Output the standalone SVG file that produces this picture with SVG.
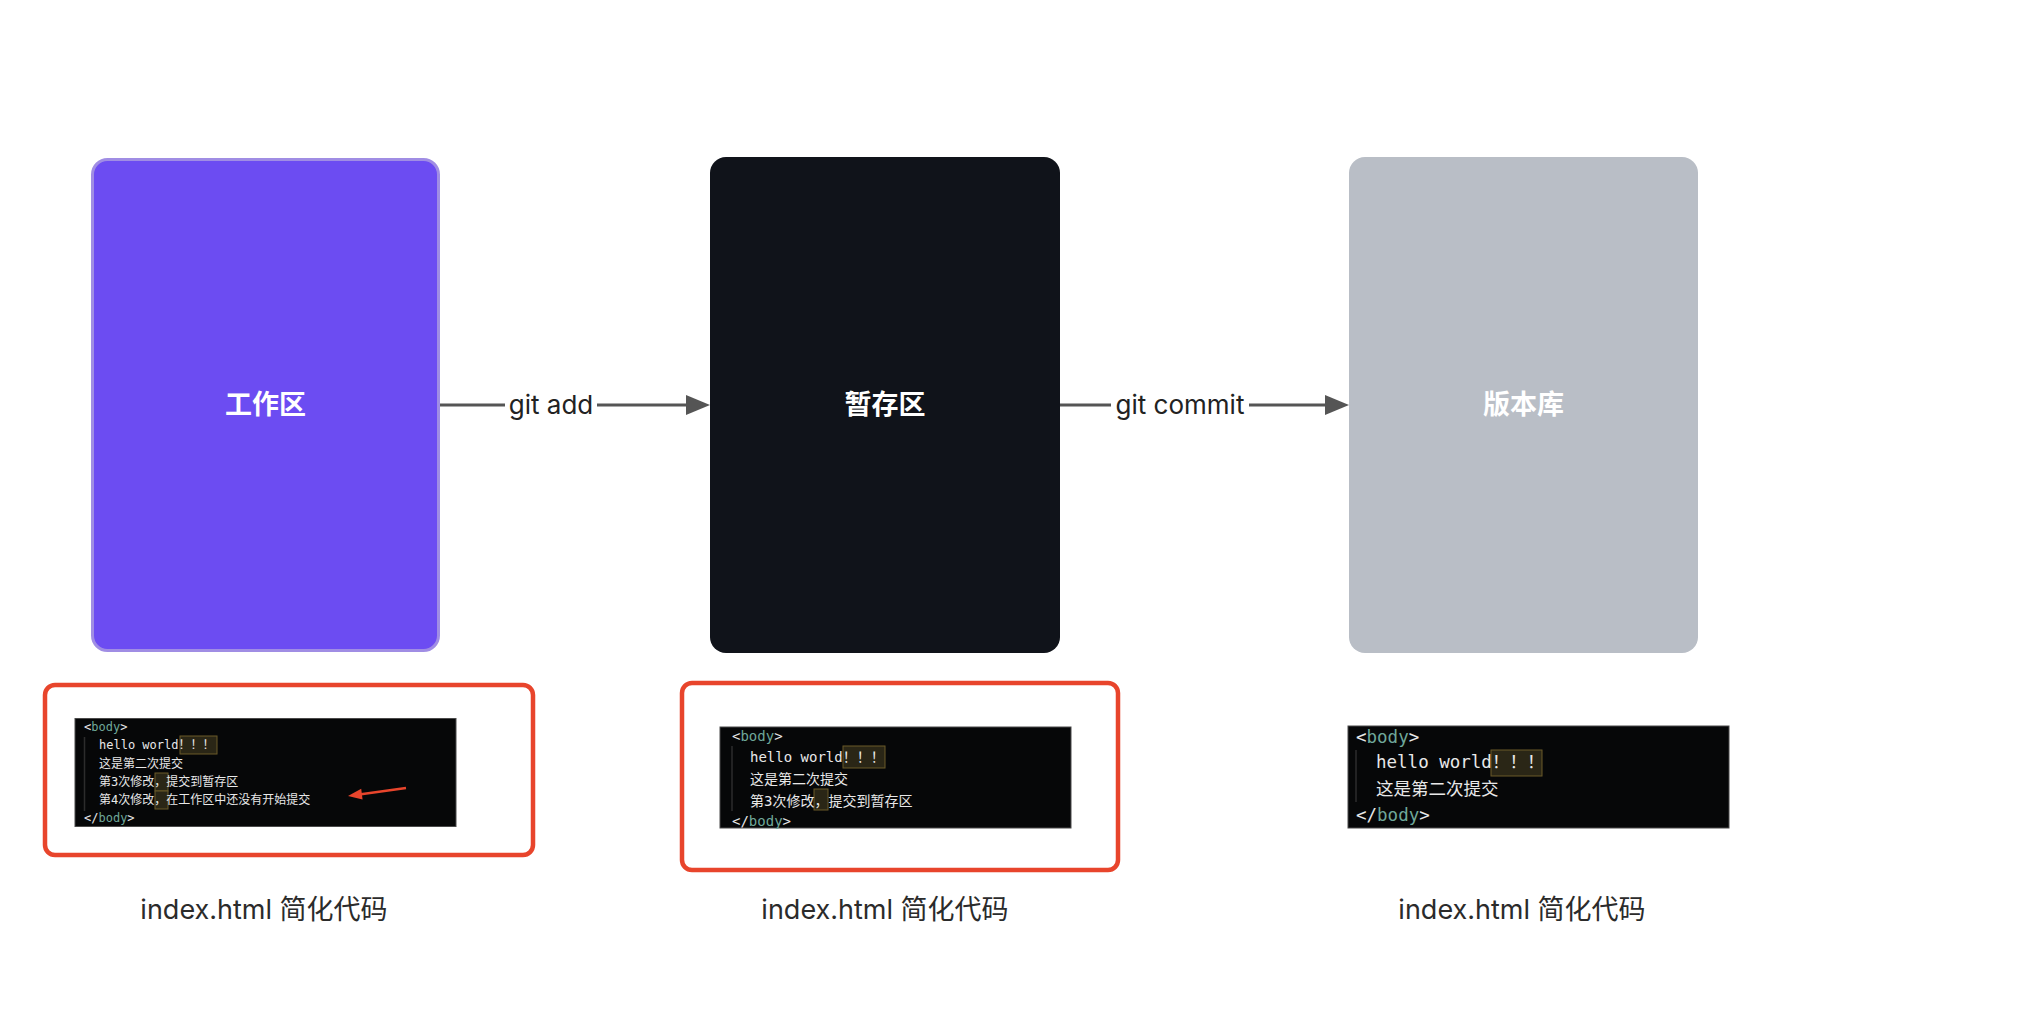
<svg xmlns="http://www.w3.org/2000/svg" width="2040" height="1032" viewBox="0 0 2040 1032">
<defs>
<style>
.lbl{font-family:"Noto Sans CJK SC",sans-serif;font-size:27px;font-weight:700;fill:#ffffff;text-anchor:middle}
.edge{font-family:Inter,"Liberation Sans",sans-serif;font-size:26px;fill:#222222;text-anchor:middle}
.cap{font-family:Inter,"Noto Sans CJK SC",sans-serif;font-size:27px;fill:#2b2b2b;text-anchor:middle}
.code{font-family:"DejaVu Sans Mono","Noto Sans CJK SC",monospace;fill:#e8e8e8}
.tag{fill:#6fa89a}
.hl{fill:#2a2616;stroke:#6a5a28;stroke-width:1}
.blk{fill:#060708;stroke:#4a4a4a;stroke-width:1}
.guide{stroke:#2c2c2c;stroke-width:1.5}
.red{fill:none;stroke:#e8452c;stroke-width:4.5}
.conn{stroke:#555555;stroke-width:3;fill:none}
</style>
</defs>
<rect width="2040" height="1032" fill="#ffffff"/>

<g id="connectors">
<line class="conn" x1="440" y1="405" x2="688" y2="405"/>
<polygon points="710,405 686,395 686,415" fill="#555555"/>
<rect x="505" y="388" width="92" height="34" fill="#ffffff"/>
<text class="edge" x="551" y="414">git add</text>
<line class="conn" x1="1060" y1="405" x2="1327" y2="405"/>
<polygon points="1349,405 1325,395 1325,415" fill="#555555"/>
<rect x="1111" y="388" width="138" height="34" fill="#ffffff"/>
<text class="edge" x="1180" y="414">git commit</text>
</g>

<g id="node-workspace">
<rect x="92.5" y="159.5" width="346" height="491" rx="15" fill="#6c4cf2" stroke="#a08de4" stroke-width="3"/>
<text class="lbl" x="265.5" y="414">工作区</text>
</g>

<g id="node-staging">
<rect x="710" y="157" width="350" height="496" rx="16" fill="#10131a"/>
<text class="lbl" x="885" y="414">暂存区</text>
</g>

<g id="node-repo">
<rect x="1349" y="157" width="349" height="496" rx="16" fill="#b9bec6"/>
<text class="lbl" x="1523.5" y="414">版本库</text>
</g>

<g id="code-workspace">
<rect class="red" x="45" y="685" width="488" height="170" rx="10"/>
<rect class="blk" x="75" y="718.5" width="381" height="108"/>
<line class="guide" x1="84.5" y1="737" x2="84.5" y2="811"/>
<rect class="hl" x="180" y="736" width="37" height="18"/>
<rect class="hl" x="155" y="773" width="13" height="18"/>
<rect class="hl" x="155" y="791" width="13" height="18"/>
<g class="code" font-size="12">
<text x="84" y="731">&lt;<tspan class="tag">body</tspan>&gt;</text>
<text x="99" y="749">hello world！！！</text>
<text x="99" y="767.5">这是第二次提交</text>
<text x="99" y="786">第3次修改，提交到暂存区</text>
<text x="99" y="804">第4次修改，在工作区中还没有开始提交</text>
<text x="84" y="822">&lt;/<tspan class="tag">body</tspan>&gt;</text>
</g>
<line x1="406" y1="788" x2="361" y2="794.2" stroke="#e8452c" stroke-width="2.5"/>
<polygon points="348,796 362.6,799.6 361.2,788.8" fill="#e8452c"/>
<text class="cap" x="264" y="919">index.html 简化代码</text>
</g>

<g id="code-staging">
<rect class="red" x="682" y="683" width="436" height="187" rx="10"/>
<rect class="blk" x="720" y="727" width="351" height="101"/>
<line class="guide" x1="732" y1="746" x2="732" y2="811"/>
<rect class="hl" x="843" y="746" width="42" height="22"/>
<rect class="hl" x="814" y="789" width="14" height="21"/>
<g class="code" font-size="14">
<text x="732" y="741">&lt;<tspan class="tag">body</tspan>&gt;</text>
<text x="750" y="762">hello world！！！</text>
<text x="750" y="784">这是第二次提交</text>
<text x="750" y="805.5">第3次修改，提交到暂存区</text>
<text x="732" y="826">&lt;/<tspan class="tag">body</tspan>&gt;</text>
</g>
<text class="cap" x="885" y="919">index.html 简化代码</text>
</g>

<g id="code-repo">
<rect class="blk" x="1348" y="726" width="381" height="102"/>
<line class="guide" x1="1356" y1="750" x2="1356" y2="802"/>
<rect class="hl" x="1491" y="750" width="51" height="26"/>
<g class="code" font-size="17.5">
<text x="1356" y="743">&lt;<tspan class="tag">body</tspan>&gt;</text>
<text x="1376" y="768">hello world！！！</text>
<text x="1376" y="795">这是第二次提交</text>
<text x="1356" y="821">&lt;/<tspan class="tag">body</tspan>&gt;</text>
</g>
<text class="cap" x="1522" y="919">index.html 简化代码</text>
</g>
</svg>
